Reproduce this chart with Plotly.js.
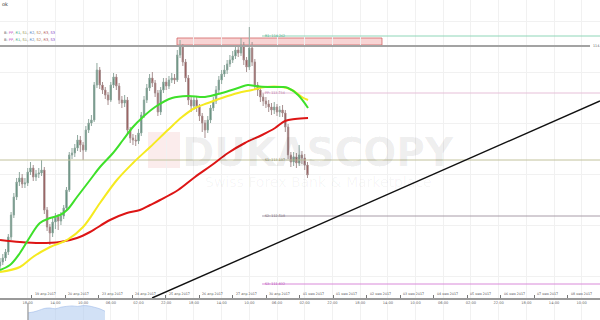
<!DOCTYPE html>
<html>
<head>
<meta charset="utf-8">
<script src="https://cdn.plot.ly/plotly-3.0.1.min.js"></script>
<style>html,body{margin:0;padding:0;background:#fff;}#chart{width:600px;height:320px;}</style>
</head>
<body>
<div id="chart"></div>
<script>
// ---- candles (2h bars, x = bar index) ----
const candleO = [
111.96,112.00,112.04,112.10,112.25,112.47,112.65,112.80,112.84,112.78,
112.79,112.90,112.94,112.85,112.88,112.89,112.92,112.52,112.35,112.29,
112.40,112.45,112.41,112.46,112.54,112.72,113.07,113.09,113.14,113.22,
113.17,113.12,113.32,113.39,113.42,113.77,113.92,113.77,113.72,113.67,
113.62,113.77,113.85,113.76,113.62,113.59,113.62,113.32,113.24,113.22,
113.21,113.29,113.47,113.62,113.74,113.84,113.79,113.69,113.50,113.72,
113.80,113.76,113.82,113.84,113.82,114.07,114.15,114.00,113.84,113.62,
113.56,113.62,113.55,113.46,113.39,113.32,113.42,113.54,113.61,113.72,
113.82,113.88,113.92,113.98,114.02,114.06,114.12,114.09,114.17,114.02,
113.95,114.14,114.00,113.77,113.72,113.65,113.61,113.58,113.55,113.52,
113.55,113.50,113.52,113.49,113.35,113.07,113.00,113.05,112.99,113.07,
113.04,112.97];
const candleH = [
112.04,112.08,112.13,112.28,112.50,112.69,112.84,112.90,112.88,112.84,
112.94,113.00,112.97,112.92,112.94,113.02,112.95,112.55,112.38,112.44,
112.49,112.48,112.50,112.57,112.75,113.10,113.14,113.18,113.27,113.26,
113.20,113.36,113.43,113.47,113.80,113.99,113.95,113.80,113.75,113.70,
113.80,113.89,113.88,113.79,113.66,113.67,113.65,113.35,113.28,113.27,
113.33,113.50,113.66,113.78,113.88,113.90,113.82,113.72,113.75,113.84,
113.84,113.86,113.89,113.88,114.12,114.22,114.18,114.03,113.87,113.66,
113.66,113.65,113.58,113.49,113.42,113.46,113.57,113.65,113.76,113.86,
113.92,113.97,114.02,114.07,114.11,114.17,114.16,114.24,114.20,114.05,
114.35,114.20,114.03,113.80,113.75,113.69,113.65,113.62,113.59,113.60,
113.58,113.56,113.57,113.52,113.38,113.10,113.10,113.09,113.17,113.11,
113.08,113.00];
const candleL = [
111.92,111.97,112.01,112.07,112.22,112.44,112.62,112.76,112.74,112.74,
112.76,112.87,112.81,112.81,112.84,112.86,112.48,112.31,112.17,112.25,
112.33,112.32,112.37,112.43,112.51,112.70,113.03,113.05,113.11,113.10,
113.02,113.10,113.29,113.36,113.40,113.74,113.73,113.68,113.63,113.57,
113.60,113.74,113.72,113.58,113.54,113.55,113.28,113.19,113.17,113.16,
113.18,113.26,113.44,113.59,113.71,113.75,113.65,113.46,113.47,113.69,
113.72,113.73,113.79,113.78,113.80,114.04,113.96,113.80,113.57,113.50,
113.52,113.50,113.41,113.30,113.24,113.29,113.39,113.51,113.58,113.69,
113.78,113.85,113.88,113.95,113.99,114.03,114.05,114.06,113.97,113.90,
113.92,113.96,113.72,113.66,113.60,113.56,113.54,113.50,113.47,113.48,
113.46,113.45,113.45,113.30,113.03,112.95,112.96,112.94,112.96,112.98,
112.92,112.84];
const candleC = [
112.00,112.04,112.10,112.25,112.47,112.65,112.80,112.84,112.78,112.79,
112.90,112.94,112.85,112.88,112.89,112.92,112.52,112.35,112.29,112.40,
112.45,112.41,112.46,112.54,112.72,113.07,113.09,113.14,113.22,113.17,
113.12,113.32,113.39,113.42,113.77,113.92,113.77,113.72,113.67,113.62,
113.77,113.85,113.76,113.62,113.59,113.62,113.32,113.24,113.22,113.21,
113.29,113.47,113.62,113.74,113.84,113.79,113.69,113.50,113.72,113.80,
113.76,113.82,113.84,113.82,114.07,114.15,114.00,113.84,113.62,113.56,
113.62,113.55,113.46,113.39,113.32,113.42,113.54,113.61,113.72,113.82,
113.88,113.92,113.98,114.02,114.06,114.12,114.09,114.17,114.02,113.95,
114.14,114.00,113.77,113.72,113.65,113.61,113.58,113.55,113.52,113.55,
113.50,113.52,113.49,113.35,113.07,113.00,113.05,112.99,113.07,113.04,
112.97,112.87];
const candleX = candleC.map((_, i) => i);

// ---- moving averages ----
const maGreenX = [0,3.6,7.2,10.8,14.4,18.1,21.7,24.2,27.8,32.5,36.1,40.8,44.4,48.0,51.6,56.0,62.1,67.9,74.0,80.1,85.9,89.5,92.1,96.8,101.8,104.0,107.6,111.2];
const maGreenY = [111.92,111.97,112.09,112.25,112.39,112.44,112.47,112.52,112.65,112.82,112.95,113.09,113.22,113.35,113.45,113.55,113.64,113.66,113.65,113.69,113.74,113.77,113.76,113.75,113.75,113.74,113.67,113.54];
const maYellowX = [0,7.2,11.9,18.1,24.2,30.0,36.1,42.2,48.0,54.2,60.6,65.7,70.4,75.1,80.1,85.9,91.0,95.7,101.8,105.4,109.0,111.2];
const maYellowY = [111.90,111.95,112.05,112.15,112.22,112.35,112.59,112.82,112.99,113.15,113.32,113.45,113.54,113.59,113.64,113.69,113.72,113.75,113.75,113.72,113.65,113.62];
const maRedX = [0,7.2,14.4,21.7,27.8,32.5,39.7,45.8,50.5,54.2,57.8,64.3,70.4,76.5,82.3,88.4,94.6,99.3,102.9,106.5,111.2];
const maRedY = [112.22,112.20,112.19,112.20,112.24,112.30,112.42,112.49,112.52,112.57,112.62,112.72,112.85,112.97,113.09,113.19,113.27,113.34,113.41,113.43,113.44];

// ---- pivot levels ----
const levelText = ['R1: 114.262','PP: 113.734','S1: 113.137','S2: 112.508','S3: 111.832'];
const levelValues = [114.26, 113.69, 113.02, 112.46, 111.78];
const levelStart = [94.6, 94.6, 0, 94.6, 94.6];
const levelColors = ['#8fd6b8','#e6bfd8','#c2c29c','#a89ca8','#d98ad9'];
const levelTextColors = ['#4aa583','#b57aa3','#8a8a5a','#7a6f7a','#b050b0'];
const levelEnd = 216.6;

const priceLineValue = 114.16;
const priceLineRange = [0, 213];
const priceLineText = '114.2';

const zoneX = [63.9, 137.9];
const zoneY = [114.17, 114.24];

const trendX = [54.9, 216.6];
const trendY = [111.64, 113.61];

// ---- axis labels ----
const gridX = [0,10,20,30,40,50,60,70,80,90,100,110,120,130,140,150,160,170,180,190,200,210];
const timeLabels = ['22:00','18:00','14:00','10:00','06:00','02:00','22:00','18:00','14:00','10:00','06:00','02:00','22:00','18:00','14:00','10:00','06:00','02:00','22:00','18:00','14:00','10:00'];
const dateTickX = [-0.7,11.4,23.5,35.6,47.7,59.8,71.9,84.0,96.1,108.2,120.3,132.4,144.5,156.6,168.7,180.8,192.9,205.0];
const dateLabels = ['18 апр 2017','19 апр 2017','20 апр 2017','23 апр 2017','24 апр 2017','25 апр 2017','26 апр 2017','27 апр 2017','30 апр 2017','01 мая 2017','01 мая 2017','02 мая 2017','03 мая 2017','04 мая 2017','05 мая 2017','06 мая 2017','07 мая 2017','08 мая 2017'];

// ---- navigator ----
const navX = [10.1,12,14,16,18,20,22,24,26,28,30,32,34,36,37.9];
const navY = [0.45,0.5,0.6,0.72,0.75,0.7,0.8,0.85,0.88,0.85,0.9,0.88,0.8,0.7,0.55];

const traces = [];
levelValues.forEach((v, i) => {
  traces.push({type:'scatter', mode:'lines', x:[levelStart[i], levelEnd], y:[v, v],
    line:{color:levelColors[i], width:1}, hoverinfo:'skip', showlegend:false});
});
traces.push({type:'scatter', mode:'lines', x:priceLineRange, y:[priceLineValue, priceLineValue],
  line:{color:'#a3a3a3', width:2}, hoverinfo:'skip', showlegend:false});
traces.push({type:'scatter', mode:'lines', x:trendX, y:trendY,
  line:{color:'#111', width:1.4}, hoverinfo:'skip', showlegend:false});
traces.push({type:'scatter', mode:'lines', x:maRedX, y:maRedY, line:{color:'#dd1515', width:2, shape:'spline'}, showlegend:false});
traces.push({type:'scatter', mode:'lines', x:maYellowX, y:maYellowY, line:{color:'#f5ea20', width:2, shape:'spline'}, showlegend:false});
traces.push({type:'scatter', mode:'lines', x:maGreenX, y:maGreenY, line:{color:'#3ee02a', width:2, shape:'spline'}, showlegend:false});
traces.push({type:'candlestick', x:candleX, open:candleO, high:candleH, low:candleL, close:candleC,
  increasing:{line:{color:'#8fa89e', width:1}, fillcolor:'#3f7a63'},
  decreasing:{line:{color:'#a89090', width:1}, fillcolor:'#8b3030'},
  whiskerwidth:0, showlegend:false, hoverinfo:'skip'});
traces.push({type:'scatter', mode:'lines', x:navX, y:navY, yaxis:'y2', fill:'tozeroy',
  fillcolor:'rgba(180,205,240,0.6)', line:{color:'rgba(150,180,230,0.9)', width:0.6, shape:'spline'},
  hoverinfo:'skip', showlegend:false});

const annotations = [];
dateTickX.forEach((x, i) => {
  annotations.push({xref:'x', yref:'paper', x:x + 0.4, y:1 - 294/320, text:dateLabels[i],
    xanchor:'left', yanchor:'middle', showarrow:false, font:{size:3.3, color:'#555', family:'DejaVu Sans'}});
});
levelValues.forEach((v, i) => {
  annotations.push({xref:'x', yref:'y', x:94.9, y:v, text:levelText[i], xanchor:'left', yanchor:'middle',
    showarrow:false, font:{size:3.3, color:levelTextColors[i], family:'DejaVu Sans'}});
});
annotations.push({xref:'x', yref:'y', x:213.4, y:priceLineValue, text:priceLineText, xanchor:'left', yanchor:'middle',
  showarrow:false, font:{size:3.3, color:'#666', family:'DejaVu Sans'}});
const legendRow = '<span style="color:#555">B:</span> <span style="color:#c040c0">PP</span>, <span style="color:#3aa87a">R1</span>, <span style="color:#8a8a40">S1</span>, <span style="color:#5080c0">R2</span>, <span style="color:#b07040">S2</span>, <span style="color:#b05050">R3</span>, <span style="color:#8040c0">S3</span>';
annotations.push({xref:'paper', yref:'paper', x:0.004, y:1 - 33/320, text:legendRow, xanchor:'left', yanchor:'middle', showarrow:false, font:{size:3.6, family:'DejaVu Sans'}});
annotations.push({xref:'paper', yref:'paper', x:0.004, y:1 - 40/320, text:legendRow, xanchor:'left', yanchor:'middle', showarrow:false, font:{size:3.6, family:'DejaVu Sans'}});
annotations.push({xref:'paper', yref:'paper', x:0, y:1 - 4/320, text:'ok', xanchor:'left', yanchor:'middle', showarrow:false, font:{size:5, color:'#333', family:'DejaVu Sans'}});
annotations.push({xref:'paper', yref:'paper', x:318/600, y:1 - 152/320, text:'<b>DUKASCOPY</b>', xanchor:'center', yanchor:'middle', showarrow:false, font:{size:39, color:'rgba(0,0,0,0.065)', family:'DejaVu Sans'}});
annotations.push({xref:'paper', yref:'paper', x:318/600, y:1 - 182/320, text:'Swiss Forex Bank & Marketplace', xanchor:'center', yanchor:'middle', showarrow:false, font:{size:14, color:'rgba(0,0,0,0.045)', family:'DejaVu Sans'}});

const layout = {
  width:600, height:320,
  margin:{l:0, r:0, t:0, b:0},
  paper_bgcolor:'#fff', plot_bgcolor:'#fff',
  showlegend:false,
  xaxis:{range:[0,216.6], tickmode:'array', tickvals:gridX, ticktext:timeLabels,
    tickfont:{size:3.6, color:'#666', family:'DejaVu Sans'}, showgrid:true, gridcolor:'#f1f1f1', gridwidth:1,
    showline:true, linecolor:'#9a9a9a', linewidth:1.5, ticks:'', zeroline:false,
    rangeslider:{visible:false}, fixedrange:true, anchor:'y',
    minor:{tickmode:'array', tickvals:dateTickX, ticks:'inside', ticklen:3, tickcolor:'#777', showgrid:false}},
  yaxis:{range:[111.64,114.62], domain:[22/320,1], showticklabels:false, showgrid:true, gridcolor:'#f1f1f1',
    tick0:111.86, dtick:0.51, zeroline:false, fixedrange:true, anchor:'x'},
  yaxis2:{range:[0,1], domain:[0,0.05], showticklabels:false, showgrid:false, zeroline:false, fixedrange:true, anchor:'x'},
  shapes:[
    {type:'rect', xref:'x', yref:'y', x0:zoneX[0], x1:zoneX[1], y0:zoneY[0], y1:zoneY[1],
      fillcolor:'rgba(240,160,160,0.45)', line:{color:'rgba(210,100,100,0.8)', width:1}, layer:'below'},
    {type:'rect', xref:'paper', yref:'paper', x0:148/600, x1:180/600, y0:1-168/320, y1:1-132/320,
      fillcolor:'rgba(220,70,70,0.10)', line:{width:0}, layer:'below'},
    {type:'line', xref:'paper', yref:'paper', x0:28/600, x1:28/600, y0:0, y1:17/320,
      line:{color:'#8a8a8a', width:1}}
  ],
  annotations:annotations
};
Plotly.newPlot('chart', traces, layout, {displayModeBar:false, staticPlot:true});
</script>
</body>
</html>
